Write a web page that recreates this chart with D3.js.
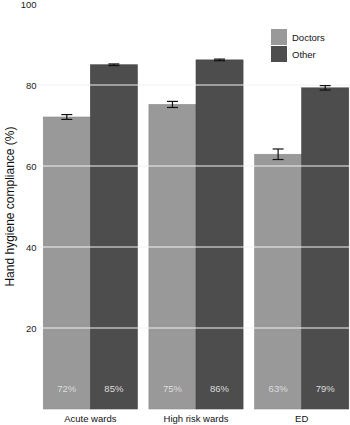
<!DOCTYPE html>
<html>
<head>
<meta charset="utf-8">
<script src="https://cdn.jsdelivr.net/npm/d3@7"></script>
<style>
html,body{margin:0;padding:0;background:#fff;}
svg{display:block;font-family:"Liberation Sans",Arial,sans-serif;}
</style>
</head>
<body>
<svg id="chart" width="350" height="425"></svg>
<script>
const categories = ["Acute wards", "High risk wards", "ED"];
const seriesNames = ["Doctors", "Other"];
const doctorsValues = [72.1, 75.2, 62.9];
const otherValues = [85.0, 86.2, 79.3];
const doctorsErrors = [0.6, 0.75, 1.3];
const otherErrors = [0.2, 0.2, 0.55];
const doctorsLabels = ["72%", "75%", "63%"];
const otherLabels = ["85%", "86%", "79%"];
const yTicks = [20, 40, 60, 80, 100];
const colors = ["#999999", "#4d4d4d"];

const svg = d3.select("#chart");
const plot = {left: 37.5, right: 354.5, top: 4, bottom: 409};

const x0 = d3.scaleBand().domain(categories).range([plot.left, plot.right])
  .paddingInner(0.109).paddingOuter(0.0545);
const x1 = d3.scaleBand().domain(seriesNames).range([0, x0.bandwidth()]).padding(0);
const y = d3.scaleLinear().domain([0, 100]).range([plot.bottom, plot.top]);

const data = [];
categories.forEach((c, i) => {
  data.push({cat: c, s: "Doctors", v: doctorsValues[i], e: doctorsErrors[i], lab: doctorsLabels[i]});
  data.push({cat: c, s: "Other", v: otherValues[i], e: otherErrors[i], lab: otherLabels[i]});
});
const color = d3.scaleOrdinal().domain(seriesNames).range(colors);
const stroke = d3.scaleOrdinal().domain(seriesNames).range(["#8c8c8c", "#444444"]);

// bars
svg.append("g").selectAll("rect").data(data).join("rect")
  .attr("x", d => x0(d.cat) + x1(d.s))
  .attr("y", d => y(d.v))
  .attr("width", x1.bandwidth())
  .attr("height", d => y(0) - y(d.v))
  .attr("fill", d => color(d.s))
  .attr("stroke", d => stroke(d.s))
  .attr("stroke-width", 0.6);

// white gridlines over bars
svg.append("g").selectAll("line").data(yTicks.filter(t => t < 100)).join("line")
  .attr("x1", plot.left).attr("x2", plot.right)
  .attr("y1", d => y(d)).attr("y2", d => y(d))
  .attr("stroke", "#f2f2f2").attr("stroke-width", 1.1);

// error bars
const eb = svg.append("g").attr("stroke", "#111").attr("stroke-width", 1.2);
data.forEach(d => {
  const cx = x0(d.cat) + x1(d.s) + x1.bandwidth() / 2;
  const hw = 5.5;
  eb.append("line").attr("x1", cx).attr("x2", cx).attr("y1", y(d.v + d.e)).attr("y2", y(d.v - d.e));
  eb.append("line").attr("x1", cx - hw).attr("x2", cx + hw).attr("y1", y(d.v + d.e)).attr("y2", y(d.v + d.e));
  eb.append("line").attr("x1", cx - hw).attr("x2", cx + hw).attr("y1", y(d.v - d.e)).attr("y2", y(d.v - d.e));
});

// percent labels
svg.append("g").selectAll("text").data(data).join("text")
  .attr("x", d => x0(d.cat) + x1(d.s) + x1.bandwidth() / 2)
  .attr("y", 392)
  .attr("text-anchor", "middle")
  .attr("font-size", "9.5px")
  .attr("fill", "#dcdcdc")
  .text(d => d.lab);

// y axis (labels only)
const yAxis = d3.axisLeft(y).tickValues(yTicks).tickSize(0).tickPadding(1);
const ga = svg.append("g").attr("transform", `translate(${plot.left},0)`).call(yAxis);
ga.select(".domain").remove();
ga.selectAll("text").attr("font-size", "9.5px").attr("fill", "#222").attr("font-family", "Liberation Sans, Arial, sans-serif");

// x axis labels
const xAxis = d3.axisBottom(x0).tickSize(0).tickPadding(6);
const gx = svg.append("g").attr("transform", `translate(0,${plot.bottom})`).call(xAxis);
gx.select(".domain").remove();
gx.selectAll("text").attr("font-size", "9.5px").attr("fill", "#111").attr("font-family", "Liberation Sans, Arial, sans-serif");

// y title
svg.append("text")
  .attr("transform", `translate(14,${(plot.top + plot.bottom) / 2}) rotate(-90)`)
  .attr("text-anchor", "middle")
  .attr("font-size", "12px")
  .attr("fill", "#111")
  .text("Hand hygiene compliance (%)");

// legend
const lg = svg.append("g").attr("transform", "translate(271,29)");
seriesNames.forEach((s, i) => {
  lg.append("rect").attr("x", 0).attr("y", i * 17).attr("width", 16).attr("height", 16)
    .attr("fill", color(s));
  lg.append("text").attr("x", 21).attr("y", i * 17 + 11.5)
    .attr("font-size", "9.5px").attr("fill", "#111").text(s);
});
</script>
</body>
</html>
